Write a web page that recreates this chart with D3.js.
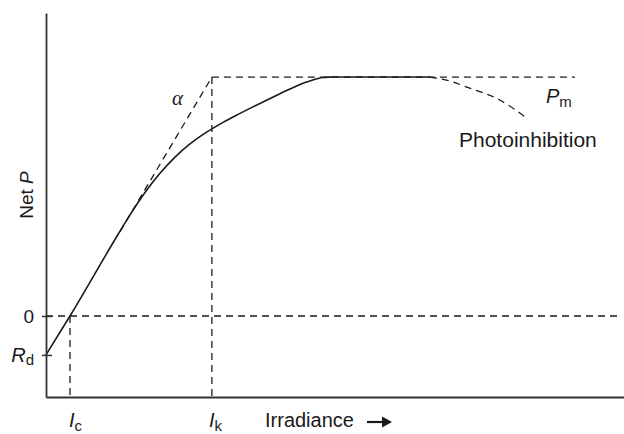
<!DOCTYPE html>
<html><head><meta charset="utf-8">
<script src="https://cdn.jsdelivr.net/npm/d3@7"></script>
<style>
html,body{margin:0;padding:0;background:#fff;}
svg{display:block;font-family:"Liberation Sans",Arial,Helvetica,sans-serif;}
</style></head>
<body><svg id="c" width="624" height="434"></svg>
<script>
// ---- data (arbitrary units) ----
const Ic = 4.15, Ik = 28.7, Pm = 100, Rd = -16.3;
// P–I curve (irradiance, net P)
const curveI = [0, 4.15, 12.46, 14.53, 17.13, 19.72, 22.32, 24.91, 27.51, 30.10, 32.70, 35.29, 37.89, 40.48, 43.08, 44.81, 46.02, 47.06, 47.92, 48.79, 49.83, 66.44];
const curveP = [-16.3, 0, 34.1, 42.3, 51.7, 59.7, 66.5, 72.0, 76.5, 80.3, 83.7, 86.9, 90.0, 93.0, 95.9, 97.7, 98.7, 99.4, 99.8, 99.95, 100, 100];
// photoinhibition branch
const inhibI = [66.44, 69.9, 72.8, 78.5, 83.2];
const inhibP = [100, 98.3, 95.8, 90.4, 82.8];
// initial slope (alpha) line
const alphaI = [12.8, 28.7];
const alphaP = [35.3, 100];
const pmLineEnd = 91.5;     // end of dashed Pm line
const zeroLineEnd = 99.3;   // end of dashed zero line
const xDomain = [0, 100];
const yDomain = [-33.9, 126.8];

const svg = d3.select("#c");
const x = d3.scaleLinear().domain(xDomain).range([46, 624]);
const y = d3.scaleLinear().domain(yDomain).range([397, 13]);
const ink = "#1a1a1a";
const dash = "7,5";

const line = d3.line().x(d => x(d[0])).y(d => y(d[1]));
const smooth = d3.line().x(d => x(d[0])).y(d => y(d[1])).curve(d3.curveMonotoneX);

// dashed guides
function dashed(pts){
  svg.append("path").attr("d", line(pts)).attr("fill","none")
    .attr("stroke", ink).attr("stroke-width",1.3).attr("stroke-dasharray", dash);
}
dashed([[0,0],[zeroLineEnd,0]]);
dashed([[Ic,0],[Ic,yDomain[0]]]);
dashed([[Ik,Pm],[Ik,yDomain[0]]]);
dashed([[Ik,Pm],[pmLineEnd,Pm]]);
dashed(alphaI.map((v,i)=>[v,alphaP[i]]));
svg.append("path")
  .attr("d", smooth(inhibI.map((v,i)=>[v,inhibP[i]])))
  .attr("fill","none").attr("stroke",ink).attr("stroke-width",1.3).attr("stroke-dasharray",dash);

// main curve
svg.append("path")
  .attr("d", smooth(curveI.map((v,i)=>[v,curveP[i]])))
  .attr("fill","none").attr("stroke",ink).attr("stroke-width",1.6);

// axes
const yAxis = d3.axisLeft(y).tickValues([0, Rd]).tickSize(4).tickSizeOuter(0).tickFormat("");
const gy = svg.append("g").attr("transform",`translate(${x(0)},0)`).call(yAxis);
gy.select(".domain").attr("stroke","#333").attr("stroke-width",1.8);
gy.selectAll(".tick line").attr("stroke","#333").attr("stroke-width",1.5).attr("x2",6).attr("x1",-4);

const xAxis = d3.axisBottom(x).tickValues([]).tickSizeOuter(0);
const gx = svg.append("g").attr("transform",`translate(0,${y(yDomain[0])})`).call(xAxis);
gx.select(".domain").attr("stroke","#333").attr("stroke-width",1.8);

const fs = 20;
// y labels
svg.append("text").attr("x",34).attr("y",y(0)+7).attr("text-anchor","end")
  .attr("font-size",19).attr("fill",ink).text("0");
const rd = svg.append("text").attr("x",34).attr("y",y(Rd)+7).attr("text-anchor","end")
  .attr("font-size",fs).attr("fill",ink);
rd.append("tspan").attr("font-style","italic").text("R");
rd.append("tspan").attr("font-size",15).attr("dy",3).text("d");

const np = svg.append("text").attr("transform",`translate(33,195) rotate(-90)`)
  .attr("text-anchor","middle").attr("font-size",19).attr("fill",ink);
np.append("tspan").text("Net ");
np.append("tspan").attr("font-style","italic").text("P");

// x labels
function sub(xpos, main, s){
  const t = svg.append("text").attr("x",xpos).attr("y",427).attr("font-size",fs).attr("fill",ink);
  t.append("tspan").attr("font-style","italic").text(main);
  t.append("tspan").attr("font-size",15).attr("dy",4).text(s);
}
sub(x(Ic)-1, "I", "c");
sub(x(Ik)-3, "I", "k");
svg.append("text").attr("x",265).attr("y",427).attr("font-size",fs).attr("fill",ink).text("Irradiance");
svg.append("line").attr("x1",367).attr("x2",384).attr("y1",422).attr("y2",422)
  .attr("stroke",ink).attr("stroke-width",2.2);
svg.append("path").attr("d","M382,416.5 L392,422 L382,427.5 Z").attr("fill",ink);

// annotations
svg.append("text").attr("x",172).attr("y",105).attr("font-size",21)
  .attr("font-family","'Liberation Serif','DejaVu Serif',serif").attr("font-style","italic")
  .attr("fill",ink).text("α");
const pm = svg.append("text").attr("x",546).attr("y",103).attr("font-size",fs).attr("fill",ink);
pm.append("tspan").attr("font-style","italic").text("P");
pm.append("tspan").attr("font-size",15).attr("dy",4).text("m");
svg.append("text").attr("x",459).attr("y",147).attr("font-size",21).attr("fill",ink).text("Photoinhibition");
</script></body></html>
